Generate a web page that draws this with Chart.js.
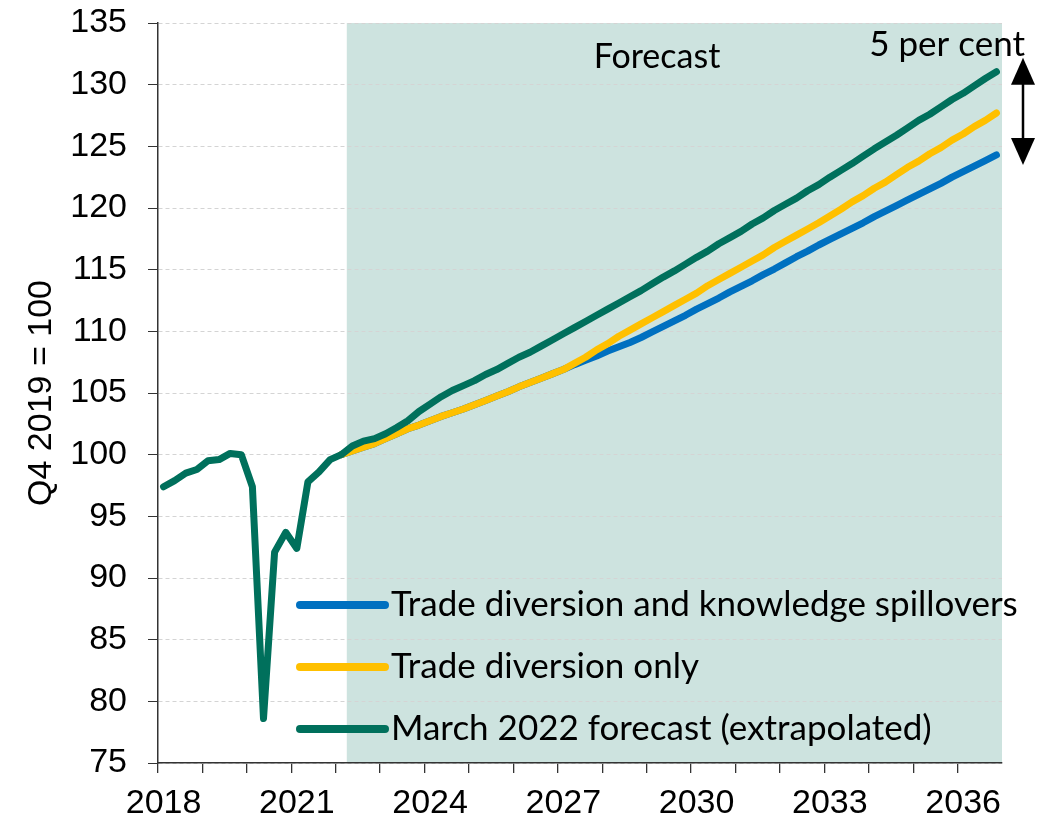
<!DOCTYPE html>
<html>
<head>
<meta charset="utf-8">
<script src="https://cdn.jsdelivr.net/npm/chart.js@4/dist/chart.umd.min.js"></script>
<style>
  html, body { margin: 0; padding: 0; background: #fff; }
</style>
</head>
<body>
<canvas id="chart" width="1043" height="824"></canvas>
<script>
// quarterly, 2018 Q1 to 2036 Q4
const first_year = 2018;
const last_year = 2036;
const quarters = [];
for (let y = first_year; y <= last_year; y++) {
  for (let q = 1; q <= 4; q++) quarters.push(y + " Q" + q);
}
const tick_years = ["2018", "2021", "2024", "2027", "2030", "2033", "2036"];

const series_names = [
  "Trade diversion and knowledge spillovers",
  "Trade diversion only",
  "March 2022 forecast (extrapolated)",
];

// March 2022 forecast (outturn to 2022 Q1, then extrapolated)
const march_forecast = [
  97.4, 97.9, 98.5, 98.8, 99.5, 99.6, 100.1, 100.0,
  97.4, 78.6, 92.1, 93.7, 92.4, 97.8, 98.6, 99.6,
  100.0, 100.7, 101.1, 101.3, 101.7, 102.2, 102.75, 103.5,
  104.1, 104.7, 105.2, 105.6, 106.0, 106.5, 106.9, 107.4,
  107.9, 108.3, 108.8, 109.3, 109.8, 110.3, 110.8, 111.3,
  111.8, 112.3, 112.8, 113.3, 113.85, 114.4, 114.9, 115.45,
  116.0, 116.5, 117.1, 117.6, 118.1, 118.7, 119.2, 119.8,
  120.3, 120.8, 121.4, 121.9, 122.5, 123.05, 123.6, 124.2,
  124.8, 125.35, 125.9, 126.5, 127.1, 127.6, 128.2, 128.8,
  129.3, 129.9, 130.5, 131.05,
];

const trade_only = [
  null, null, null, null, null, null, null, null,
  null, null, null, null, null, null, null, null,
  100.0, 100.3, 100.6, 100.9, 101.3, 101.7, 102.1, 102.4,
  102.75, 103.1, 103.4, 103.7, 104.05, 104.4, 104.75, 105.1,
  105.5, 105.85, 106.2, 106.55, 106.9, 107.4, 107.9, 108.5,
  109.0, 109.6, 110.1, 110.6, 111.1, 111.6, 112.1, 112.6,
  113.1, 113.7, 114.2, 114.7, 115.2, 115.7, 116.2, 116.8,
  117.3, 117.8, 118.3, 118.8, 119.35, 119.9, 120.5, 121.0,
  121.6, 122.1, 122.7, 123.3, 123.8, 124.4, 124.9, 125.5,
  126.0, 126.6, 127.1, 127.7,
];

const trade_and_spillovers = [
  null, null, null, null, null, null, null, null,
  null, null, null, null, null, null, null, null,
  100.0, 100.3, 100.6, 100.9, 101.3, 101.7, 102.1, 102.4,
  102.75, 103.1, 103.4, 103.7, 104.05, 104.4, 104.75, 105.1,
  105.5, 105.85, 106.2, 106.55, 106.9, 107.3, 107.65, 108.0,
  108.4, 108.75, 109.1, 109.5, 109.95, 110.4, 110.85, 111.3,
  111.8, 112.25, 112.7, 113.2, 113.65, 114.1, 114.6, 115.05,
  115.55, 116.05, 116.5, 117.0, 117.45, 117.9, 118.35, 118.8,
  119.3, 119.75, 120.2, 120.65, 121.1, 121.55, 122.0, 122.5,
  122.95, 123.4, 123.85, 124.3,
];

const forecast_start = 17; // index of 2022 Q2
const y_title = "Q4 2019 = 100";

const blue = "#0070c0";
const yellow = "#ffc000";
const green = "#00705c";
const shade_colour = "#cde3df";

// shaded forecast period, behind grid and lines
const forecastShade = {
  id: "forecastShade",
  beforeDraw(chart) {
    const { ctx, chartArea, scales } = chart;
    const x0 = (scales.x.getPixelForValue(forecast_start - 1) + scales.x.getPixelForValue(forecast_start)) / 2;
    ctx.save();
    ctx.fillStyle = shade_colour;
    ctx.fillRect(x0, chartArea.top, chartArea.right - x0, chartArea.bottom - chartArea.top);
    ctx.restore();
  },
};

// legend inside the plot + labels and arrow
const extras = {
  id: "extras",
  afterDraw(chart) {
    const { ctx, chartArea, scales } = chart;
    ctx.save();

    // legend
    const lx = chartArea.left + 142;
    chart.data.datasets.forEach((ds, i) => {
      const ly = chartArea.bottom - 158 + i * 62;
      ctx.strokeStyle = ds.borderColor;
      ctx.lineWidth = 8;
      ctx.lineCap = "round";
      ctx.beginPath();
      ctx.moveTo(lx, ly);
      ctx.lineTo(lx + 85, ly);
      ctx.stroke();
      ctx.fillStyle = "#000";
      ctx.font = "35px Lato";
      ctx.textAlign = "left";
      ctx.textBaseline = "middle";
      ctx.fillText(ds.label, lx + 91, ly);
    });

    ctx.fillStyle = "#000";
    ctx.font = "34px Lato";
    ctx.textAlign = "center";
    ctx.textBaseline = "middle";
    ctx.fillText("Forecast", chartArea.left + 499, chartArea.top + 34);

    ctx.font = "35px Lato";
    ctx.textAlign = "right";
    ctx.fillText("5 per cent", chartArea.right + 23, chartArea.top + 22);

    // double-headed arrow between the end points
    const n = quarters.length - 1;
    const ax = chartArea.right + 21;
    const top = scales.y.getPixelForValue(march_forecast[n]) - 14;
    const bot = scales.y.getPixelForValue(trade_and_spillovers[n]) + 10;
    const hh = 27, hw = 12;
    ctx.strokeStyle = "#000";
    ctx.lineWidth = 2.5;
    ctx.beginPath();
    ctx.moveTo(ax, top + hh - 2);
    ctx.lineTo(ax, bot - hh + 2);
    ctx.stroke();
    ctx.beginPath();
    ctx.moveTo(ax, top);
    ctx.lineTo(ax - hw, top + hh);
    ctx.lineTo(ax + hw, top + hh);
    ctx.closePath();
    ctx.fill();
    ctx.beginPath();
    ctx.moveTo(ax, bot);
    ctx.lineTo(ax - hw, bot - hh);
    ctx.lineTo(ax + hw, bot - hh);
    ctx.closePath();
    ctx.fill();

    ctx.restore();
  },
};

const data = {
  labels: quarters,
  datasets: [
    { label: series_names[0], data: trade_and_spillovers, borderColor: blue, order: 3 },
    { label: series_names[1], data: trade_only, borderColor: yellow, order: 2 },
    { label: series_names[2], data: march_forecast, borderColor: green, order: 1 },
  ],
};

const tickFont = { family: "Liberation Sans", size: 34 };

const config = {
  type: "line",
  data: data,
  options: {
    responsive: false,
    animation: false,
    layout: { padding: { top: 23, right: 41, left: 0, bottom: 0 } },
    elements: {
      point: { radius: 0 },
      line: { borderWidth: 7, tension: 0, borderCapStyle: "round", borderJoinStyle: "round", fill: false },
    },
    plugins: {
      legend: { display: false },
      tooltip: { enabled: false },
    },
    scales: {
      x: {
        type: "category",
        offset: true,
        grid: {
          offset: true,
          drawOnChartArea: false,
          tickLength: 10,
          lineWidth: 1.3,
          color: (c) => (c.index % 4 === 0 ? "#333" : "rgba(0,0,0,0)"),
        },
        border: { color: "#333", width: 1.5 },
        ticks: {
          autoSkip: false,
          maxRotation: 0,
          minRotation: 0,
          padding: 10,
          color: "#000",
          font: tickFont,
          callback: (v, i) => (i % 12 === 0 ? tick_years[i / 12] : ""),
        },
        afterFit: (s) => { s.height = 61; },
      },
      y: {
        min: 75,
        max: 135,
        ticks: { stepSize: 5, color: "#000", font: tickFont, padding: 21 },
        grid: { color: "#d4d4d4", lineWidth: 1, tickColor: "#333", tickLength: 10 },
        border: { color: "#333", width: 1.5, dash: [4, 3] },
        title: {
          display: true,
          text: y_title,
          color: "#000",
          font: { family: "Liberation Sans", size: 34 },
          padding: { top: 21, bottom: 0 },
        },
        afterFit: (s) => {
          s.width = 158;
          s.paddingTop = 0;
          s.paddingBottom = 0;
        },
      },
    },
  },
  plugins: [forecastShade, extras],
};

const myChart = new Chart(document.getElementById("chart"), config);
</script>
</body>
</html>
